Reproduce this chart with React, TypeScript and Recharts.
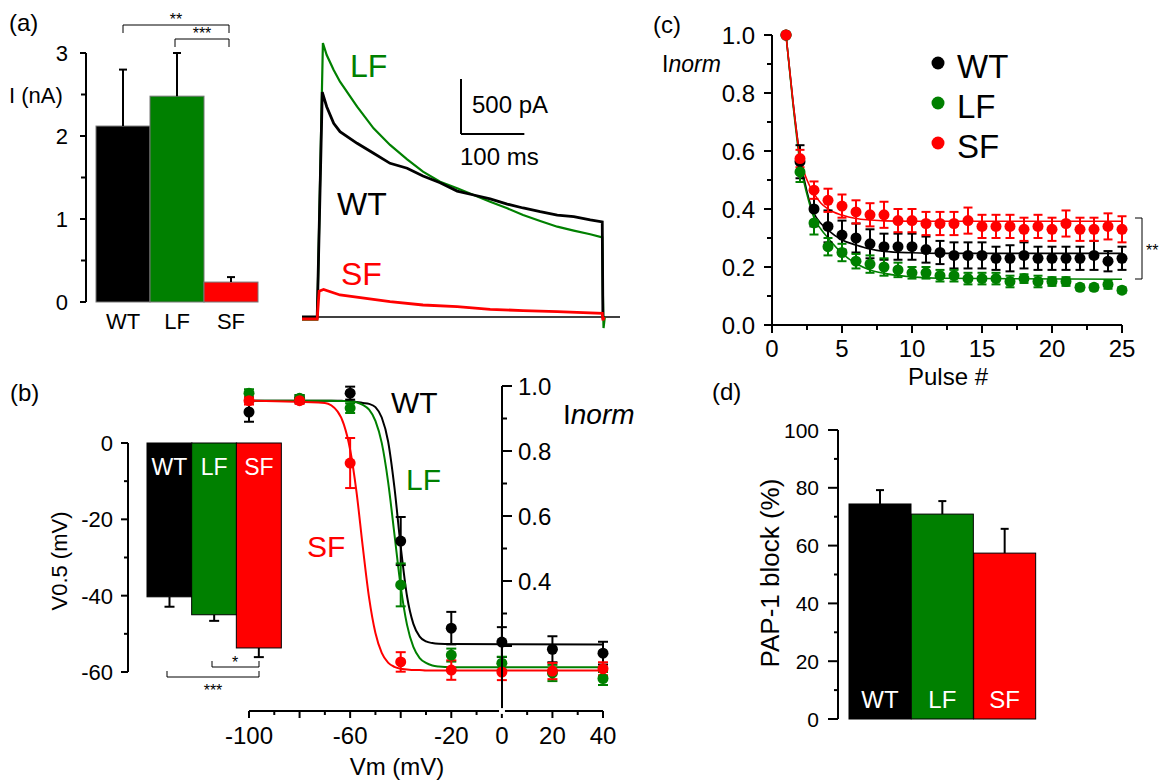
import React from 'react'
import { BarChart, Bar, XAxis, YAxis, LineChart, Line, ComposedChart, ErrorBar, ReferenceLine } from 'recharts'

const FONT = '"Liberation Sans", Arial, Helvetica, sans-serif'
const GREEN = '#008000'
const RED = '#ff0000'
const BLACK = '#000000'

const groups = ['WT', 'LF', 'SF']
const groupColors = [BLACK, GREEN, RED]

// (a) peak current, nA
const peakCurrent = [2.12, 2.48, 0.24]
const peakCurrentErr = [0.68, 0.52, 0.06]

// (a) example traces, time in ms / current in pA
const wtTraceT = [-24, -1, 0, 8, 15, 26, 36, 63, 89, 115, 142, 167, 194, 221, 247, 273, 300, 325, 352, 379, 405, 431, 450, 451, 453]
const wtTraceI = [0, 0, 0, 2045, 1912, 1761, 1685, 1579, 1488, 1397, 1352, 1282, 1221, 1145, 1109, 1073, 1027, 991, 957, 927, 912, 882, 864, 0, 0]
const lfTraceT = [-24, -1, 0, 9, 15, 26, 36, 63, 89, 115, 142, 167, 194, 221, 247, 273, 300, 325, 352, 379, 405, 431, 450, 451, 452, 454]
const lfTraceI = [-25, -25, -25, 2491, 2382, 2245, 2139, 1912, 1715, 1564, 1433, 1321, 1230, 1170, 1109, 1048, 988, 927, 873, 821, 785, 752, 724, 200, -100, 0]
const sfTraceT = [-24, -1, 0, 3, 10, 36, 115, 167, 221, 273, 325, 379, 450, 451, 453]
const sfTraceI = [-18, -18, -18, 235, 250, 200, 139, 109, 94, 70, 58, 48, 33, -30, 0]

// (c) use-dependent accumulation
const pulses = [1, 2, 3, 4, 5, 6, 7, 8, 9, 10, 11, 12, 13, 14, 15, 16, 17, 18, 19, 20, 21, 22, 23, 24, 25]
const pulseWt = [1.0, 0.563, 0.40, 0.34, 0.31, 0.30, 0.28, 0.27, 0.27, 0.27, 0.26, 0.25, 0.24, 0.24, 0.24, 0.23, 0.23, 0.24, 0.23, 0.23, 0.23, 0.23, 0.24, 0.22, 0.23]
const pulseLf = [1.0, 0.528, 0.352, 0.27, 0.25, 0.22, 0.21, 0.20, 0.19, 0.18, 0.18, 0.17, 0.17, 0.16, 0.16, 0.16, 0.15, 0.16, 0.15, 0.15, 0.15, 0.13, 0.13, 0.14, 0.12]
const pulseSf = [1.0, 0.574, 0.465, 0.43, 0.41, 0.39, 0.38, 0.38, 0.36, 0.36, 0.35, 0.35, 0.35, 0.36, 0.34, 0.34, 0.34, 0.33, 0.34, 0.33, 0.35, 0.33, 0.33, 0.34, 0.33]
const pulseWtErr = [0, 0.057, 0.06, 0.055, 0.05, 0.05, 0.05, 0.045, 0.045, 0.045, 0.045, 0.04, 0.045, 0.045, 0.045, 0.04, 0.045, 0.045, 0.04, 0.04, 0.04, 0.04, 0.05, 0.035, 0.04]
const pulseLfErr = [0, 0.035, 0.04, 0.03, 0.03, 0.025, 0.03, 0.03, 0.025, 0.02, 0.02, 0.02, 0.02, 0.02, 0.02, 0.02, 0.02, 0.015, 0.02, 0.015, 0.015, 0.01, 0.01, 0.015, 0.01]
const pulseSfErr = [0, 0.03, 0.03, 0.04, 0.04, 0.04, 0.04, 0.045, 0.04, 0.04, 0.04, 0.04, 0.04, 0.045, 0.04, 0.04, 0.04, 0.04, 0.04, 0.04, 0.045, 0.04, 0.04, 0.045, 0.045]
const fitPulse = [1, 1.5, 2, 2.5, 3, 3.5, 4, 5, 6, 7, 8, 10, 12, 25]
const fitWt = [1.0, 0.77, 0.58, 0.46, 0.385, 0.35, 0.327, 0.293, 0.276, 0.262, 0.254, 0.249, 0.247, 0.247]
const fitLf = [1.0, 0.76, 0.56, 0.45, 0.37, 0.33, 0.30, 0.247, 0.212, 0.19, 0.178, 0.166, 0.161, 0.158]
const fitSf = [1.0, 0.77, 0.58, 0.5, 0.453, 0.42, 0.40, 0.379, 0.367, 0.362, 0.359, 0.358, 0.358, 0.358]

// (b) voltage dependence of inactivation
const volts = [-100, -80, -60, -40, -20, 0, 20, 40]
const inactWt = [0.92, 0.96, 0.978, 0.523, 0.255, 0.212, 0.19, 0.178]
const inactLf = [0.978, 0.962, 0.932, 0.388, 0.172, 0.147, 0.117, 0.10]
const inactSf = [0.955, 0.955, 0.763, 0.151, 0.126, 0.12, 0.123, 0.13]
const inactWtErr = [0.03, 0.012, 0.02, 0.074, 0.05, 0.046, 0.04, 0.035]
const inactLfErr = [0.012, 0.01, 0.015, 0.066, 0.02, 0.02, 0.025, 0.02]
const inactSfErr = [0.012, 0.01, 0.077, 0.03, 0.03, 0.025, 0.025, 0.02]
const fitVolts = [-100, -70, -65, -62.5, -60, -57.5, -55, -52.5, -50, -47.5, -45, -42.5, -40, -37.5, -35, -32.5, -30, -27.5, -25, -20, 40]
const fitInactWt = [0.955, 0.955, 0.955, 0.954, 0.953, 0.951, 0.948, 0.945, 0.935, 0.903, 0.83, 0.689, 0.506, 0.353, 0.268, 0.229, 0.214, 0.209, 0.207, 0.206, 0.205]
const fitInactLf = [0.955, 0.955, 0.954, 0.954, 0.953, 0.95, 0.942, 0.927, 0.893, 0.825, 0.706, 0.545, 0.383, 0.265, 0.197, 0.163, 0.148, 0.14, 0.137, 0.135, 0.135]
const fitInactSf = [0.955, 0.948, 0.922, 0.882, 0.804, 0.675, 0.505, 0.348, 0.24, 0.179, 0.149, 0.136, 0.13, 0.128, 0.126, 0.126, 0.125, 0.125, 0.125, 0.125, 0.125]

// (b) inset V0.5, mV
const vHalf = [-40.3, -45.0, -53.7]
const vHalfErr = [2.6, 1.6, 2.4]

// (d) PAP-1 block, %
const papBlock = [74.4, 70.9, 57.4]
const papBlockErr = [4.8, 4.5, 8.4]

const barRows = (vals: number[], errs: number[]) => groups.map((name, i) => ({ name, v: vals[i], e: errs[i] }))
const xyRows = (xs: number[], ys: number[], xk: string) => xs.map((x, i) => ({ [xk]: x, y: ys[i] }))

const peakRows = barRows(peakCurrent, peakCurrentErr)
const vHalfRows = barRows(vHalf, vHalfErr)
const papRows = barRows(papBlock, papBlockErr)
const pulseRows = pulses.map((p, i) => ({
  p, wt: pulseWt[i], lf: pulseLf[i], sf: pulseSf[i],
  wtE: pulseWtErr[i], lfE: pulseLfErr[i], sfE: pulseSfErr[i],
}))
const inactRows = volts.map((v, i) => ({
  v, wt: inactWt[i], lf: inactLf[i], sf: inactSf[i],
  wtE: inactWtErr[i], lfE: inactLfErr[i], sfE: inactSfErr[i],
}))

const range = (a: number, b: number, s: number) => {
  const out: number[] = []
  for (let v = a; v <= b + 1e-9; v += s) out.push(Math.round(v * 1000) / 1000)
  return out
}

type TickCfg = {
  side: 'left' | 'right' | 'bottom'
  major: number[]
  labels: number[]
  long: number
  short: number
  gap: number
  fs: number
  fmt?: (v: number) => string
}

const makeTick = (cfg: TickCfg) => (p: any) => {
  const v = Number(p.payload.value)
  const has = (arr: number[]) => arr.some((a) => Math.abs(a - v) < 1e-6)
  const len = has(cfg.major) ? cfg.long : cfg.short
  const label = has(cfg.labels) ? (cfg.fmt ? cfg.fmt(v) : String(v)) : ''
  const { x, y } = p
  if (cfg.side === 'bottom') {
    return (
      <g>
        <line x1={x} x2={x} y1={y} y2={y + len} stroke="#000" strokeWidth={2} />
        {label && <text x={x} y={y + len + cfg.gap + cfg.fs * 0.72} textAnchor="middle" fontSize={cfg.fs} fill="#000">{label}</text>}
      </g>
    )
  }
  const dir = cfg.side === 'left' ? -1 : 1
  return (
    <g>
      <line x1={x} x2={x + dir * len} y1={y} y2={y} stroke="#000" strokeWidth={2} />
      {label && (
        <text x={x + dir * (len + cfg.gap)} y={y + cfg.fs * 0.36} textAnchor={dir < 0 ? 'end' : 'start'} fontSize={cfg.fs} fill="#000">
          {label}
        </text>
      )}
    </g>
  )
}

type BarCfg = { edge: string; cap: number; label?: 'top' | 'bottom'; labelOffset?: number; fs?: number }

const makeBarShape = (cfg: BarCfg) => (p: any) => {
  const { x, y, width, height, index, payload } = p
  const top = Math.min(y, y + height)
  const h = Math.abs(height)
  const val = payload.v
  const err = payload.e
  const k = val ? h / Math.abs(val) : 0
  const cx = x + width / 2
  const end = val < 0 ? top + h : top
  const tip = val < 0 ? end + err * k : end - err * k
  const ly = cfg.label === 'top' ? top + (cfg.labelOffset ?? 0) : top + h + (cfg.labelOffset ?? 0)
  return (
    <g>
      <rect x={x} y={top} width={width} height={h} fill={groupColors[index]} stroke={cfg.edge} strokeWidth={1} />
      <line x1={cx} x2={cx} y1={end} y2={tip} stroke="#000" strokeWidth={2} />
      <line x1={cx - cfg.cap} x2={cx + cfg.cap} y1={tip} y2={tip} stroke="#000" strokeWidth={2} />
      {cfg.label && (
        <text x={cx} y={ly} textAnchor="middle" fontSize={cfg.fs} fill="#fff">{payload.name}</text>
      )}
    </g>
  )
}

const axisLine = { stroke: '#000', strokeWidth: 2 }

const Box = ({ l, t, children }: { l: number; t: number; children: React.ReactNode }) => (
  <div style={{ position: 'absolute', left: l, top: t }}>{children}</div>
)

const dotStyle = (c: string, r: number) => ({ r, fill: c, stroke: 'none' })

export default function App() {
  const seriesKeys = [
    { k: 'wt', c: BLACK },
    { k: 'lf', c: GREEN },
    { k: 'sf', c: RED },
  ]
  const pulseFits = [fitWt, fitLf, fitSf]
  const inactFits = [fitInactWt, fitInactLf, fitInactSf]
  const traces = [
    { t: lfTraceT, i: lfTraceI, c: GREEN, w: 2.2 },
    { t: wtTraceT, i: wtTraceI, c: BLACK, w: 2.8 },
    { t: sfTraceT, i: sfTraceI, c: RED, w: 2.8 },
  ]

  return (
    <div style={{ position: 'absolute', left: 0, top: 0, width: 1161, height: 783, background: '#fff', fontFamily: FONT, overflow: 'hidden' }}>
      {/* (a) peak current bars */}
      <Box l={0} t={0}>
        <BarChart width={290} height={340} data={peakRows} margin={{ top: 53, right: 22, bottom: 8, left: 26 }} barCategoryGap={0}>
          <XAxis dataKey="name" axisLine={false} tickLine={false} tickSize={0} tickMargin={11} height={30} padding={{ left: 10, right: 10 }} tick={{ fontSize: 22, fill: '#000' }} />
          <YAxis type="number" domain={[0, 3]} ticks={range(0, 3, 0.5)} interval={0} width={60} axisLine={axisLine} tickLine={false} tickSize={0} tickMargin={0}
            tick={makeTick({ side: 'left', major: [0, 1, 2, 3], labels: [0, 1, 2, 3], long: 6, short: 5, gap: 12, fs: 22 })} />
          <Bar dataKey="v" isAnimationActive={false} shape={makeBarShape({ edge: '#777', cap: 4 })} />
        </BarChart>
      </Box>

      {/* (a) current traces */}
      <Box l={290} t={0}>
        <LineChart width={340} height={345} margin={{ top: 9, right: 10, bottom: 6, left: 12 }}>
          <XAxis dataKey="t" type="number" domain={[-24, 478]} hide />
          <YAxis type="number" domain={[-200, 2800]} hide />
          <ReferenceLine y={0} stroke="#000" strokeWidth={1.5} />
          {traces.map((tr, n) => (
            <Line key={n} data={xyRows(tr.t, tr.i, 't')} dataKey="y" type="linear" stroke={tr.c} strokeWidth={tr.w} dot={false} activeDot={false} isAnimationActive={false} />
          ))}
          <ReferenceLine segment={[{ x: 227, y: 2164 }, { x: 227, y: 1664 }]} stroke="#000" strokeWidth={2} />
          <ReferenceLine segment={[{ x: 227, y: 1664 }, { x: 327, y: 1664 }]} stroke="#000" strokeWidth={2} />
        </LineChart>
      </Box>

      {/* (c) pulse train */}
      <Box l={700} t={0}>
        <ComposedChart width={461} height={400} data={pulseRows} margin={{ top: 35, right: 39, bottom: 40, left: 20 }}>
          <XAxis dataKey="p" type="number" domain={[0, 25]} ticks={range(0, 25, 2.5)} interval={0} height={35} axisLine={axisLine} tickLine={false} tickSize={0} tickMargin={0}
            tick={makeTick({ side: 'bottom', major: [0, 5, 10, 15, 20, 25], labels: [0, 5, 10, 15, 20, 25], long: 8, short: 5, gap: 7, fs: 24 })} />
          <YAxis type="number" domain={[0, 1]} ticks={range(0, 1, 0.1)} interval={0} width={52} axisLine={axisLine} tickLine={false} tickSize={0} tickMargin={0}
            tick={makeTick({ side: 'left', major: [0, 0.2, 0.4, 0.6, 0.8, 1], labels: [0, 0.2, 0.4, 0.6, 0.8, 1], long: 8, short: 5, gap: 9, fs: 24, fmt: (v) => v.toFixed(1) })} />
          {seriesKeys.map((s, n) => (
            <Line key={'fit' + s.k} data={xyRows(fitPulse, pulseFits[n], 'p')} dataKey="y" type="monotone" stroke={s.c} strokeWidth={1.6} dot={false} activeDot={false} isAnimationActive={false} />
          ))}
          {seriesKeys.map((s) => (
            <Line key={s.k} dataKey={s.k} stroke="none" dot={dotStyle(s.c, 5.5)} activeDot={false} isAnimationActive={false}>
              <ErrorBar dataKey={s.k + 'E'} direction="y" width={4.5} strokeWidth={2} stroke={s.c} />
            </Line>
          ))}
        </ComposedChart>
      </Box>

      {/* (b) inactivation curves */}
      <Box l={0} t={380}>
        <ComposedChart width={660} height={403} data={inactRows} margin={{ top: 6, right: 57, bottom: 32, left: 249 }}>
          <XAxis dataKey="v" type="number" domain={[-100, 40]} ticks={range(-100, 40, 10)} interval={0} height={40} axisLine={axisLine} tickLine={false} tickSize={0} tickMargin={0}
            tick={makeTick({ side: 'bottom', major: [-100, -80, -60, -40, -20, 0, 20, 40], labels: [-100, -60, -20, 0, 20, 40], long: 7, short: 4, gap: 9, fs: 24 })} />
          <YAxis type="number" domain={[0, 1]} hide />
          {seriesKeys.map((s, n) => (
            <Line key={'fit' + s.k} data={xyRows(fitVolts, inactFits[n], 'v')} dataKey="y" type="monotone" stroke={s.c} strokeWidth={2} dot={false} activeDot={false} isAnimationActive={false} />
          ))}
          {seriesKeys.map((s) => (
            <Line key={s.k} dataKey={s.k} stroke="none" dot={dotStyle(s.c, 5.5)} activeDot={false} isAnimationActive={false}>
              <ErrorBar dataKey={s.k + 'E'} direction="y" width={5} strokeWidth={2} stroke={s.c} />
            </Line>
          ))}
        </ComposedChart>
      </Box>

      {/* (b) Inorm axis at 0 mV */}
      <Box l={440} t={360}>
        <ComposedChart width={170} height={423} data={[{ x: 0, y: 0 }]} margin={{ top: 26, right: 10, bottom: 72, left: 2 }}>
          <XAxis dataKey="x" type="number" domain={[0, 1]} hide />
          <YAxis type="number" domain={[0, 1]} ticks={range(0.2, 1, 0.1)} interval={0} width={60} axisLine={axisLine} tickLine={false} tickSize={0} tickMargin={0}
            tick={makeTick({ side: 'right', major: [0.2, 0.4, 0.6, 0.8, 1], labels: [0.4, 0.6, 0.8, 1], long: 10, short: 5, gap: 6, fs: 24, fmt: (v) => v.toFixed(1) })} />
          <Line dataKey="y" stroke="none" dot={false} activeDot={false} isAnimationActive={false} />
        </ComposedChart>
      </Box>

      {/* (b) inset V0.5 bars */}
      <Box l={0} t={380}>
        <BarChart width={300} height={320} data={vHalfRows} margin={{ top: 63, right: 10, bottom: 28, left: 68 }} barCategoryGap={0}>
          <XAxis dataKey="name" hide padding={{ left: 19, right: 9 }} />
          <YAxis type="number" domain={[-60, 0]} ticks={range(-60, 0, 10)} interval={0} width={60} axisLine={axisLine} tickLine={false} tickSize={0} tickMargin={0}
            tick={makeTick({ side: 'left', major: [-60, -40, -20, 0], labels: [-60, -40, -20, 0], long: 7, short: 4, gap: 8, fs: 22 })} />
          <Bar dataKey="v" isAnimationActive={false} shape={makeBarShape({ edge: '#000', cap: 5, label: 'top', labelOffset: 32, fs: 23 })} />
        </BarChart>
      </Box>

      {/* (d) PAP-1 block */}
      <Box l={760} t={400}>
        <BarChart width={401} height={383} data={papRows} margin={{ top: 30, right: 115, bottom: 64, left: 28 }} barCategoryGap={0}>
          <XAxis dataKey="name" hide padding={{ left: 11, right: 10 }} />
          <YAxis type="number" domain={[0, 100]} ticks={range(0, 100, 10)} interval={0} width={50} axisLine={axisLine} tickLine={false} tickSize={0} tickMargin={0}
            tick={makeTick({ side: 'left', major: [0, 20, 40, 60, 80, 100], labels: [0, 20, 40, 60, 80, 100], long: 10, short: 4, gap: 9, fs: 21 })} />
          <Bar dataKey="v" isAnimationActive={false} shape={makeBarShape({ edge: '#000', cap: 4, label: 'bottom', labelOffset: -11, fs: 24 })} />
        </BarChart>
      </Box>

      {/* annotations */}
      <svg width={1161} height={783} style={{ position: 'absolute', left: 0, top: 0, pointerEvents: 'none' }} fontFamily={FONT}>
        <text x={9} y={31} fontSize={24}>(a)</text>
        <text x={9} y={103} fontSize={22}>I (nA)</text>
        <path d="M123 33 V25 H229 V33" fill="none" stroke="#000" strokeWidth={1} />
        <text x={176} y={25} fontSize={16} textAnchor="middle">**</text>
        <path d="M175 47 V39 H229 V47" fill="none" stroke="#000" strokeWidth={1} />
        <text x={202} y={39} fontSize={16} textAnchor="middle">***</text>

        <text x={350} y={77} fontSize={32} fill={GREEN}>LF</text>
        <text x={337} y={215} fontSize={32} fill={BLACK}>WT</text>
        <text x={341} y={285} fontSize={32} fill={RED}>SF</text>
        <text x={472} y={113} fontSize={24}>500 pA</text>
        <text x={460} y={165} fontSize={24}>100 ms</text>

        <text x={653} y={33} fontSize={24}>(c)</text>
        <text x={662} y={72} fontSize={23}>I<tspan fontStyle="italic">norm</tspan></text>
        {groups.map((g, i) => (
          <g key={g}>
            <circle cx={938} cy={63 + i * 40} r={6.5} fill={groupColors[i]} />
            <text x={957} y={78 + i * 40} fontSize={33}>{g}</text>
          </g>
        ))}
        <path d="M1135 218 H1142 V279 H1135" fill="none" stroke="#000" strokeWidth={1} />
        <text x={1146} y={256} fontSize={16}>**</text>
        <text x={948} y={385} fontSize={24} textAnchor="middle">Pulse #</text>

        <text x={10} y={401} fontSize={24}>(b)</text>
        <text transform="translate(67,561) rotate(-90)" fontSize={22} textAnchor="middle">V0.5 (mV)</text>
        <path d="M212 661 V667 H259 V661" fill="none" stroke="#000" strokeWidth={1} />
        <text x={235} y={668} fontSize={16} textAnchor="middle">*</text>
        <path d="M167 671 V677 H259 V671" fill="none" stroke="#000" strokeWidth={1} />
        <text x={213} y={696} fontSize={16} textAnchor="middle">***</text>
        <text x={391} y={413} fontSize={30} fill={BLACK}>WT</text>
        <text x={406} y={490} fontSize={30} fill={GREEN}>LF</text>
        <text x={307} y={557} fontSize={30} fill={RED}>SF</text>
        <text x={563} y={424} fontSize={28}>I<tspan fontStyle="italic">norm</tspan></text>
        <text x={397} y={775} fontSize={24} textAnchor="middle">Vm (mV)</text>

        <text x={712} y={400} fontSize={24}>(d)</text>
        <text transform="translate(779,573) rotate(-90)" fontSize={26} textAnchor="middle">PAP-1 block (%)</text>
      </svg>
    </div>
  )
}
